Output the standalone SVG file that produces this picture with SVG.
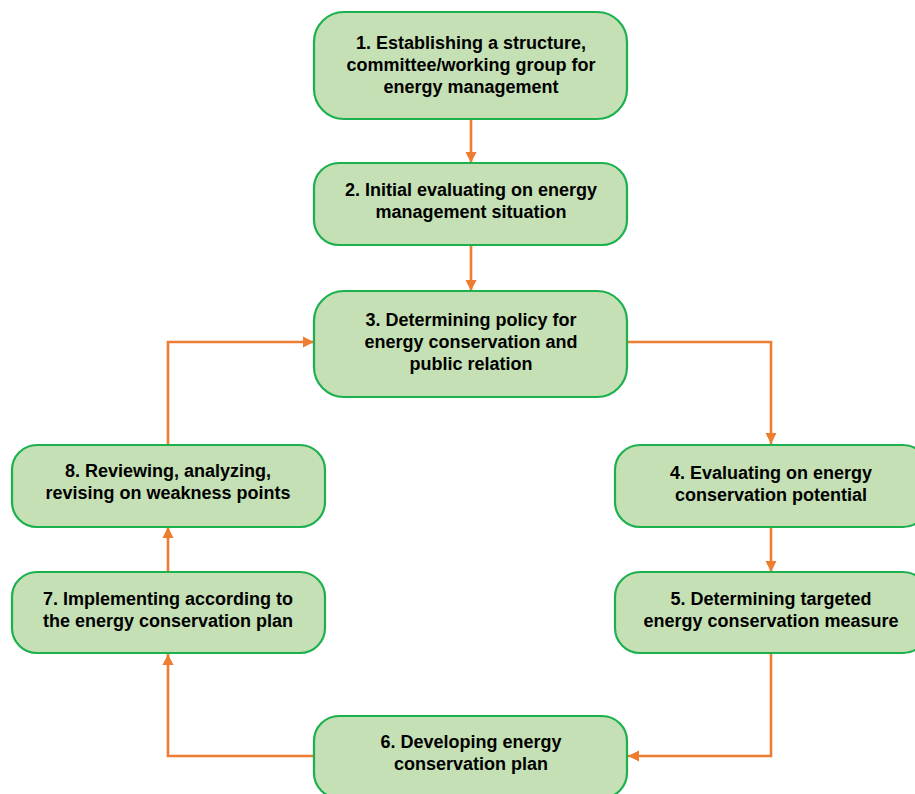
<svg xmlns="http://www.w3.org/2000/svg" width="915" height="794" viewBox="0 0 915 794">
<style>
.box{fill:#C5E0B4;stroke:#1DB04E;stroke-width:2.2}
.t{font-family:"Liberation Sans",Arial,sans-serif;font-weight:bold;font-size:18px;fill:#000;text-anchor:middle}
.c{fill:none;stroke:#ED7D31;stroke-width:2.6;marker-end:url(#ah)}
</style>
<defs>
<marker id="ah" markerUnits="userSpaceOnUse" markerWidth="12" markerHeight="12" refX="11" refY="6" orient="auto">
<path d="M0,0.5 L11,6 L0,11.5 Z" fill="#ED7D31"/>
</marker>
</defs>
<rect width="915" height="794" fill="#fff"/>
<g id="connectors">
<path class="c" d="M471,119 V163"/>
<path class="c" d="M471,245 V291"/>
<path class="c" d="M627,342 H771 V444"/>
<path class="c" d="M771,527 V572"/>
<path class="c" d="M771,653 V756 H628"/>
<path class="c" d="M314,756 H168 V654"/>
<path class="c" d="M168,572 V527"/>
<path class="c" d="M168,445 V342 H314"/>
</g>
<g id="n1"><rect class="box" x="314" y="12" width="313" height="107" rx="30"/>
<text class="t" x="471" y="49">1. Establishing a structure,</text>
<text class="t" x="471" y="71">committee/working group for</text>
<text class="t" x="471" y="93">energy management</text></g>
<g id="n2"><rect class="box" x="314" y="163" width="313" height="82" rx="25"/>
<text class="t" x="471" y="196">2. Initial evaluating on energy</text>
<text class="t" x="471" y="218">management situation</text></g>
<g id="n3"><rect class="box" x="314" y="291" width="313" height="106" rx="30"/>
<text class="t" x="471" y="326">3. Determining policy for</text>
<text class="t" x="471" y="348">energy conservation and</text>
<text class="t" x="471" y="370">public relation</text></g>
<g id="n4"><rect class="box" x="615" y="445" width="313" height="82" rx="25"/>
<text class="t" x="771" y="479">4. Evaluating on energy</text>
<text class="t" x="771" y="501">conservation potential</text></g>
<g id="n5"><rect class="box" x="615" y="572" width="313" height="81" rx="25"/>
<text class="t" x="771" y="605">5. Determining targeted</text>
<text class="t" x="771" y="627">energy conservation measure</text></g>
<g id="n6"><rect class="box" x="314" y="716" width="313" height="82" rx="25"/>
<text class="t" x="471" y="748">6. Developing energy</text>
<text class="t" x="471" y="770">conservation plan</text></g>
<g id="n7"><rect class="box" x="12" y="572" width="313" height="81" rx="25"/>
<text class="t" x="168" y="605">7. Implementing according to</text>
<text class="t" x="168" y="627">the energy conservation plan</text></g>
<g id="n8"><rect class="box" x="12" y="445" width="313" height="82" rx="25"/>
<text class="t" x="168" y="477">8. Reviewing, analyzing,</text>
<text class="t" x="168" y="499">revising on weakness points</text></g>
</svg>
